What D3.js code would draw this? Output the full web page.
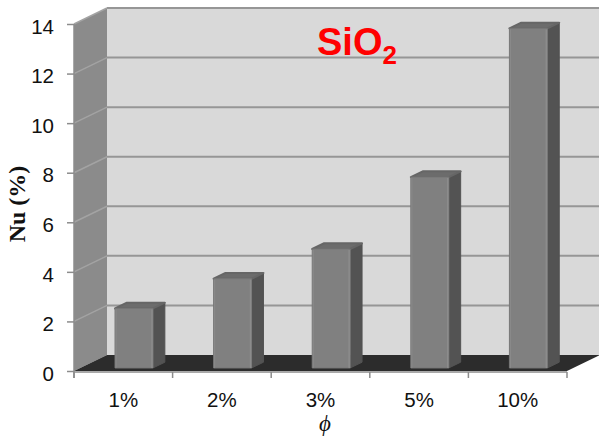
<!DOCTYPE html>
<html>
<head>
<meta charset="utf-8">
<script src="https://cdn.jsdelivr.net/npm/d3@7/dist/d3.min.js"></script>
<style>
  html, body { margin: 0; padding: 0; background: #fff; }
  svg { display: block; }
</style>
</head>
<body>
<svg id="chart" width="599" height="436"></svg>
<script>
// Nusselt number enhancement for SiO2 nanofluid at several volume fractions
const categories = ["1%", "2%", "3%", "5%", "10%"];
const nuValues = [2.4, 3.6, 4.8, 7.7, 13.7];
const yTicks = [0, 2, 4, 6, 8, 10, 12, 14];

const svg = d3.select("#chart");

// front plane of the 3-D box and its depth offset
const frontLeft = 74, frontRight = 567;
const depthX = 33, depthY = -16;

const x = d3.scaleBand().domain(categories).range([frontLeft, frontRight]);
const y = d3.scaleLinear().domain([0, 14]).range([371, 24]);

// project a point (front-plane x, value, depth fraction 0..1)
const P = (px, v, z) => [px + z * depthX, y(v) + z * depthY];
const poly = pts => pts.map(p => p.join(",")).join(" ");

const yMax = 14;

// back wall
svg.append("polygon")
  .attr("points", poly([P(frontLeft, yMax, 1), P(frontRight, yMax, 1), P(frontRight, 0, 1), P(frontLeft, 0, 1)]))
  .attr("fill", "#d9d9d9");

// left side wall
svg.append("polygon")
  .attr("points", poly([P(frontLeft, yMax, 0), P(frontLeft, yMax, 1), P(frontLeft, 0, 1), P(frontLeft, 0, 0)]))
  .attr("fill", "#8b8b8b");

// gridlines on back wall and side wall
const grid = svg.append("g");
yTicks.filter(t => t > 0).forEach(t => {
  grid.append("line")
    .attr("x1", P(frontLeft, t, 1)[0]).attr("y1", P(frontLeft, t, 1)[1])
    .attr("x2", P(frontRight, t, 1)[0]).attr("y2", P(frontRight, t, 1)[1])
    .attr("stroke", "#969696").attr("stroke-width", 2);
  grid.append("line")
    .attr("x1", P(frontLeft, t, 0)[0]).attr("y1", P(frontLeft, t, 0)[1])
    .attr("x2", P(frontLeft, t, 1)[0]).attr("y2", P(frontLeft, t, 1)[1])
    .attr("stroke", "#a3a3a3").attr("stroke-width", 1.5);
});

// floor
svg.append("polygon")
  .attr("points", poly([P(frontLeft, 0, 0), P(frontRight, 0, 0), P(frontRight, 0, 1), P(frontLeft, 0, 1)]))
  .attr("fill", "#2c2c2c");

// bars
const bw = x.bandwidth();
const z0 = 0.19, z1 = 0.55;
const barsG = svg.append("g");
categories.forEach((c, i) => {
  const v = nuValues[i];
  const xl = x(c) + bw * 0.416 - z0 * depthX;
  const xr = xl + bw * 0.385;
  const g = barsG.append("g").attr("stroke-linejoin", "round");
  // side face
  g.append("polygon")
    .attr("points", poly([P(xr, v, z0), P(xr, v, z1), P(xr, 0, z1), P(xr, 0, z0)]))
    .attr("fill", "#535353").attr("stroke", "#535353").attr("stroke-width", 1);
  // top face
  g.append("polygon")
    .attr("points", poly([P(xl, v, z0), P(xr, v, z0), P(xr, v, z1), P(xl, v, z1)]))
    .attr("fill", "#6c6c6c").attr("stroke", "#666").attr("stroke-width", 2);
  // front face
  g.append("polygon")
    .attr("points", poly([P(xl, v, z0), P(xr, v, z0), P(xr, 0, z0), P(xl, 0, z0)]))
    .attr("fill", "#808080").attr("stroke", "#777").attr("stroke-width", 1);
  // bevel highlights along front edges
  g.append("line")
    .attr("x1", P(xl, v, z0)[0] + 1).attr("y1", P(xl, v, z0)[1] + 1)
    .attr("x2", P(xl, 0, z0)[0] + 1).attr("y2", P(xl, 0, z0)[1])
    .attr("stroke", "#8a8a8a").attr("stroke-width", 1);
  g.append("line")
    .attr("x1", P(xr, v, z0)[0] - 1).attr("y1", P(xr, v, z0)[1] + 1)
    .attr("x2", P(xr, 0, z0)[0] - 1).attr("y2", P(xr, 0, z0)[1])
    .attr("stroke", "#8c8c8c").attr("stroke-width", 1.5);
});

// y axis
const axisColor = "#8c8c8c";
const yAxis = svg.append("g")
  .attr("transform", `translate(${frontLeft},0)`)
  .call(d3.axisLeft(y).tickValues(yTicks).tickSize(7).tickPadding(13).tickFormat(d3.format("d")));
yAxis.select(".domain").attr("stroke", axisColor).attr("stroke-width", 1.5).attr("d", `M0,${y(yMax)}V${y(0) + 7}`);
yAxis.selectAll(".tick line").attr("stroke", axisColor).attr("stroke-width", 1.5);
yAxis.selectAll(".tick text")
  .attr("fill", "#111").attr("font-family", "Liberation Sans, Arial, sans-serif").attr("font-size", 20.5)
  .attr("dy", "0.45em");

// x axis
const xAxis = svg.append("g")
  .attr("transform", `translate(0,${y(0) + 1})`)
  .call(d3.axisBottom(x).tickSize(0).tickPadding(20));
xAxis.select(".domain").remove();
xAxis.selectAll(".tick text")
  .attr("fill", "#111").attr("font-family", "Liberation Sans, Arial, sans-serif").attr("font-size", 20.5);
svg.append("line")
  .attr("x1", frontLeft).attr("x2", frontRight)
  .attr("y1", y(0) + 1).attr("y2", y(0) + 1)
  .attr("stroke", axisColor).attr("stroke-width", 1.5);
const bounds = categories.map(c => x(c)).concat([x(categories[categories.length - 1]) + bw]);
svg.append("g").selectAll("line").data(bounds).join("line")
  .attr("x1", d => d).attr("x2", d => d)
  .attr("y1", y(0) + 1).attr("y2", y(0) + 7)
  .attr("stroke", axisColor).attr("stroke-width", 1.5);

// axis titles
svg.append("text")
  .attr("transform", `translate(17,${204}) rotate(-90)`)
  .attr("text-anchor", "middle").attr("dominant-baseline", "central")
  .attr("font-family", "Liberation Serif, Times New Roman, serif")
  .attr("font-weight", "bold").attr("font-size", 24).attr("fill", "#111")
  .text("Nu (%)");

svg.append("text")
  .attr("x", 325).attr("y", 431)
  .attr("text-anchor", "middle")
  .attr("font-family", "Liberation Serif, Times New Roman, serif")
  .attr("font-style", "italic").attr("font-size", 23).attr("fill", "#111")
  .text("ϕ");

// material label
const lbl = svg.append("text")
  .attr("x", 317).attr("y", 55)
  .attr("font-family", "Liberation Sans, Arial, sans-serif")
  .attr("font-weight", "bold").attr("fill", "#ff0000");
lbl.append("tspan").attr("font-size", 38).text("SiO");
lbl.append("tspan").attr("font-size", 26).attr("dy", 9).text("2");
</script>
</body>
</html>
